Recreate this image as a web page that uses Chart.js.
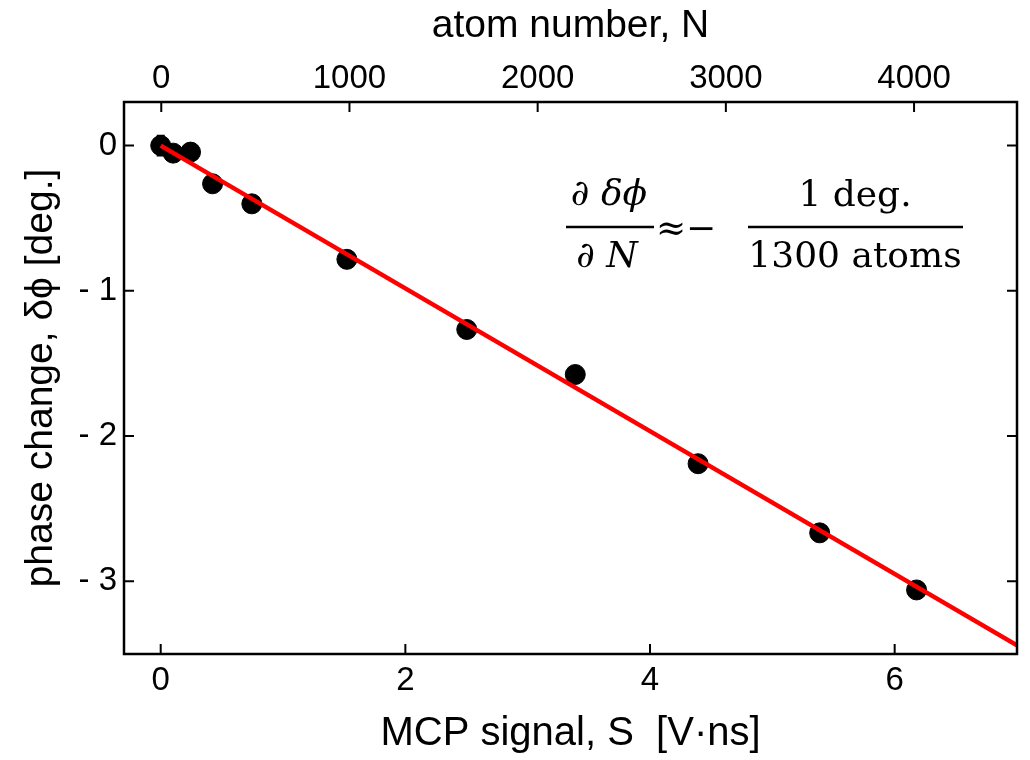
<!DOCTYPE html>
<html><head><meta charset="utf-8">
<script src="https://cdn.jsdelivr.net/npm/chart.js@4/dist/chart.umd.min.js"></script>
<style>html,body{margin:0;padding:0;background:#fff;} #wrap{width:1030px;height:760px;}</style>
</head><body><div id="wrap"><canvas id="c" width="1030" height="760"></canvas></div>
<script>
// ---- data ----
const signalS     = [0, 0.102, 0.244, 0.424, 0.745, 1.522, 2.502, 3.389, 4.393, 5.387, 6.179];
const phaseChange = [0, -0.052, -0.045, -0.263, -0.401, -0.783, -1.266, -1.576, -2.190, -2.666, -3.059];
const phaseError  = [0.065, 0.04, 0.04, 0.04, 0.04, 0.04, 0.04, 0.04, 0.04, 0.04, 0.04];
const fitS        = [0, 7];
const fitPhase    = [0, -3.44];
const xTickValues    = [0, 2, 4, 6];
const atomTickValues = [0, 1000, 2000, 3000, 4000];
const yTickValues    = [0, -1, -2, -3];
const xRange    = [-0.3, 7.0];
const atomRange = [-198, 4547];
const yRange    = [-3.5, 0.3];
const xTitle    = 'MCP signal, S  [V·ns]';
const atomTitle = 'atom number, N';
const yTitle    = 'phase change, δϕ [deg.]';
const formulaLeftNum  = '∂ δϕ';
const formulaLeftDen  = '∂ N';
const formulaApprox   = '≈';
const formulaMinus    = '−';
const formulaRightNum = '1 deg.';
const formulaRightDen = '1300 atoms';

const SANS = "'Liberation Sans', Arial, sans-serif";
const SERIF = "'DejaVu Serif', serif";

const pts = signalS.map((s, i) => ({x: s, y: phaseChange[i]}));
const fitPts = fitS.map((s, i) => ({x: s, y: fitPhase[i]}));

const frame = {
  id: 'frame',
  beforeDatasetsDraw(chart) {
    const {ctx, scales} = chart;
    ctx.save();
    const x = scales.x, y = scales.y;
    ctx.strokeStyle = '#000';
    ctx.lineWidth = 3;
    pts.forEach((p, i) => {
      const px = x.getPixelForValue(p.x);
      const t = y.getPixelForValue(p.y + phaseError[i]);
      const b = y.getPixelForValue(p.y - phaseError[i]);
      ctx.beginPath(); ctx.moveTo(px, t); ctx.lineTo(px, b); ctx.stroke();
      ctx.beginPath(); ctx.moveTo(px - 4, t); ctx.lineTo(px + 4, t);
      ctx.moveTo(px - 4, b); ctx.lineTo(px + 4, b); ctx.stroke();
    });
    ctx.restore();
  },
  afterDraw(chart) {
    const {ctx, chartArea: a, scales} = chart;
    ctx.save();
    ctx.strokeStyle = '#000';
    ctx.lineWidth = 2.5;
    ctx.strokeRect(a.left, a.top, a.right - a.left, a.bottom - a.top);
    ctx.lineWidth = 2;
    const L = 10;
    ctx.beginPath();
    scales.x.ticks.forEach(t => { const p = scales.x.getPixelForValue(t.value); ctx.moveTo(p, a.bottom); ctx.lineTo(p, a.bottom - L); });
    scales.x2.ticks.forEach(t => { const p = scales.x2.getPixelForValue(t.value); ctx.moveTo(p, a.top); ctx.lineTo(p, a.top + L); });
    scales.y.ticks.forEach(t => { const p = scales.y.getPixelForValue(t.value); ctx.moveTo(a.left, p); ctx.lineTo(a.left + L, p); ctx.moveTo(a.right, p); ctx.lineTo(a.right - L, p); });
    ctx.stroke();

    // formula
    ctx.fillStyle = '#000';
    ctx.textAlign = 'center';
    ctx.textBaseline = 'alphabetic';
    ctx.font = "italic 36px " + SERIF;
    ctx.fillText(formulaLeftNum, 609, 205);
    ctx.fillText(formulaLeftDen, 607, 267);
    ctx.lineWidth = 2.5;
    ctx.beginPath();
    ctx.moveTo(566, 227); ctx.lineTo(654, 227);
    ctx.moveTo(748, 227); ctx.lineTo(963, 227);
    ctx.stroke();
    ctx.font = "36px " + SERIF;
    ctx.fillText(formulaApprox, 671, 240);
    ctx.fillText(formulaMinus, 701, 240);
    ctx.fillText(formulaRightNum, 855, 206);
    ctx.fillText(formulaRightDen, 855, 267);
    ctx.restore();
  }
};

new Chart(document.getElementById('c'), {
  type: 'scatter',
  data: {
    datasets: [
      { type: 'line', data: fitPts, borderColor: '#ff0000', borderWidth: 4.5, pointRadius: 0, fill: false, order: 0, xAxisID: 'x', yAxisID: 'y' },
      { data: pts, backgroundColor: '#000', borderColor: '#000', borderWidth: 1, pointRadius: 10, order: 1, xAxisID: 'x', yAxisID: 'y' }
    ]
  },
  options: {
    responsive: false,
    animation: false,
    events: [],
    layout: { padding: { left: 0, right: 13, top: 0, bottom: 0 } },
    plugins: { legend: { display: false }, tooltip: { enabled: false } },
    scales: {
      x: {
        type: 'linear', position: 'bottom', min: xRange[0], max: xRange[1],
        grid: { display: false, drawTicks: false }, border: { display: false },
        afterBuildTicks: s => { s.ticks = xTickValues.map(v => ({value: v})); },
        afterFit: s => { s.height = 106; },
        ticks: { color: '#000', font: { family: SANS, size: 33 }, padding: 7, maxRotation: 0, callback: v => String(v) },
        title: { display: true, text: xTitle, color: '#000', font: { family: SANS, size: 40 }, padding: { top: 0, bottom: 2 } }
      },
      x2: {
        type: 'linear', position: 'top', min: atomRange[0], max: atomRange[1],
        grid: { display: false, drawTicks: false }, border: { display: false },
        afterBuildTicks: s => { s.ticks = atomTickValues.map(v => ({value: v})); },
        afterFit: s => { s.height = 102; },
        ticks: { color: '#000', font: { family: SANS, size: 33 }, padding: 3, maxRotation: 0, callback: v => String(v) },
        title: { display: true, text: atomTitle, color: '#000', font: { family: SANS, size: 39 }, padding: { top: 3, bottom: 0 } }
      },
      y: {
        type: 'linear', position: 'left', min: yRange[0], max: yRange[1],
        grid: { display: false, drawTicks: false }, border: { display: false },
        afterBuildTicks: s => { s.ticks = yTickValues.map(v => ({value: v})); },
        afterFit: s => { s.width = 124; },
        ticks: { color: '#000', font: { family: SANS, size: 33 }, padding: 7, callback: v => v < 0 ? '- ' + Math.abs(v) : String(v) },
        title: { display: true, text: yTitle, color: '#000', font: { family: SANS, size: 39 }, padding: { top: 18, bottom: 0 } }
      }
    }
  },
  plugins: [frame]
});
</script>
</body></html>
